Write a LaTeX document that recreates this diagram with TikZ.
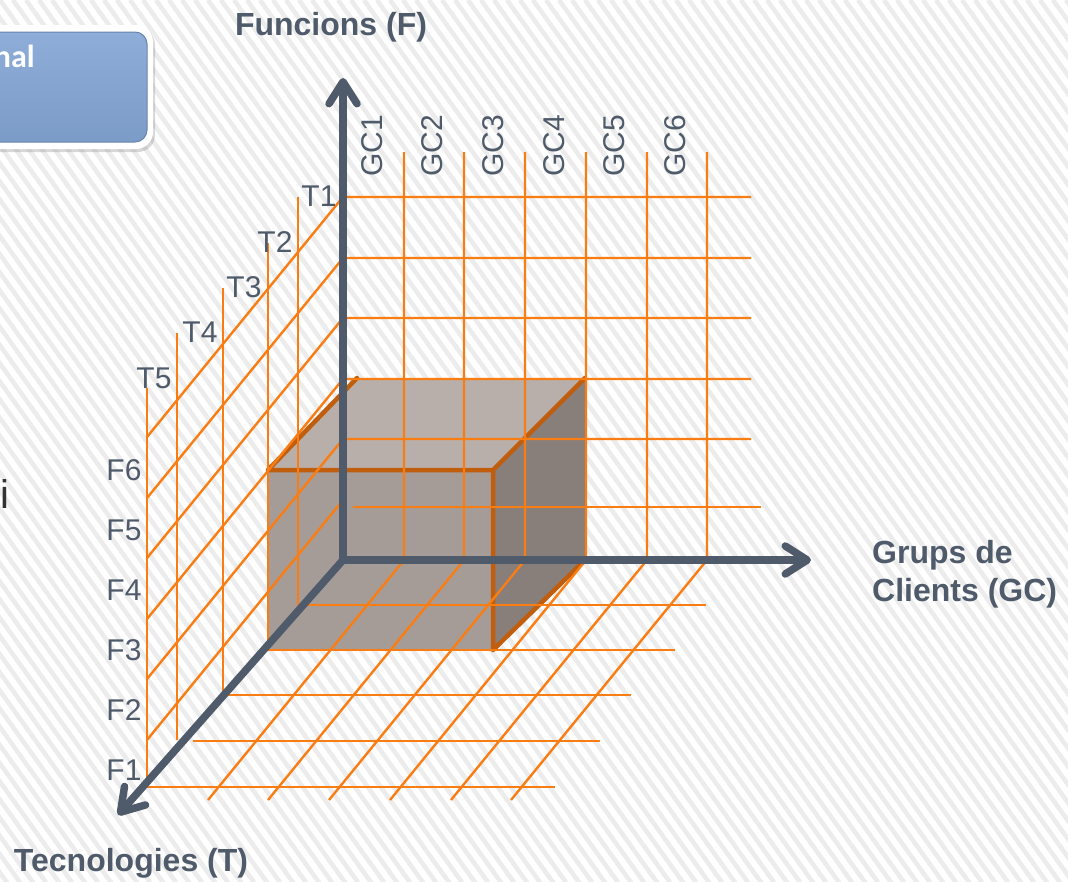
\documentclass[tikz,border=0pt]{standalone}
\usepackage{fontspec}
\setmainfont{Liberation Sans}
\newfontfamily\boxfont{Carlito}
\usetikzlibrary{arrows.meta,shadows}

\definecolor{axisgray}{RGB}{79,91,107}
\definecolor{gridorange}{RGB}{250,125,20}
\definecolor{edgebrown}{RGB}{192,94,14}
\definecolor{cubefront}{RGB}{165,156,152}
\definecolor{cubetop}{RGB}{184,175,171}
\definecolor{cuberight}{RGB}{136,126,122}
\definecolor{boxblue}{RGB}{124,156,200}
\definecolor{boxbluetop}{RGB}{142,173,216}
\definecolor{stripegray}{RGB}{236,236,236}

\tikzset{axtip/.tip={Straight Barb[length=22pt,width=28pt,round]}}

\begin{document}
\begin{tikzpicture}[x=1pt,y=-1pt,
    stripe/.style={draw=stripegray, line width=4.5pt},
    gridline/.style={draw=gridorange, line width=2.4pt, line join=round},
    cubeedge/.style={draw=edgebrown, line width=4.5pt, line cap=round},
    axis/.style={draw=axisgray, line width=7.5pt, line join=miter},
    ticklbl/.style={text=axisgray, font=\fontsize{30}{30}\selectfont, inner sep=0pt},
    axlabel/.style={text=axisgray, font=\fontsize{32}{38}\selectfont\bfseries, inner sep=0pt}]
  \useasboundingbox (0,0) rectangle (1068,881);
  \clip (0,0) rectangle (1068,881);
  \fill[white] (0,0) rectangle (1068,881);
  \foreach \s in {-663,-650,...,1068}
    \draw[stripe] (\s,0) -- ++(640,895);

  \fill[white, rounded corners=17pt, drop shadow={shadow xshift=2pt, shadow yshift=-3pt, opacity=0.3}]
    (-30,25) rectangle (153,149);
  \draw[boxblue!85!black, line width=1pt, rounded corners=12pt, top color=boxbluetop, bottom color=boxblue]
    (-30,32) rectangle (147,142);
  \node[font=\boxfont\bfseries\fontsize{32}{32}\selectfont, text=white, anchor=base east, inner sep=0pt] (boxtxt) at (35,67) {nal};
  \node[font=\fontsize{40}{40}\selectfont, text=black!80, anchor=base west, inner sep=0pt] (cuttxt) at (0,508) {i};

  \fill[cubefront] (268,470) rectangle (493,650);
  \fill[cubetop] (268,470) -- (357,378) -- (585,378) -- (493,470) -- cycle;
  \fill[cuberight] (493,470) -- (585,378) -- (585,560) -- (493,650) -- cycle;
  \draw[cubeedge] (268,470) -- (357,378) (268,470) -- (493,470) -- (493,650)
    (493,470) -- (585,378) (493,650) -- (585,560);

  \foreach \y in {439,379,318,258,197}
    \draw[gridline] (147,{\y+240}) -- (343,\y) -- (751,\y);
  \draw[gridline] (147,740) -- (343,500);
  \draw[gridline] (353,507) -- (761,507);
  \foreach \x in {404,464,525,586,647,707}
    \draw[gridline] ({\x-196},800) -- (\x,560) -- (\x,152);
  \foreach \x/\ya/\yb/\xe in {298/197/605/706, 268/243/650/675, 223/288/695/631, 147/388/787/555}
    \draw[gridline] (\x,\ya) -- (\x,\yb) -- (\xe,\yb);
  \draw[gridline] (177,333) -- (177,740);
  \draw[gridline] (193,741) -- (600,741);

  \coordinate (O) at (343,560);
  \coordinate (Ftip) at (343,78);
  \coordinate (GCtip) at (811,560);
  \coordinate (Ttip) at (118,815);
  \draw[axis, axtip-axtip] (Ftip) -- (O) -- (GCtip);
  \draw[axis, -axtip] (O) -- (Ttip);

  \foreach \i in {1,...,6}
    \node[ticklbl, rotate=90] (gc\i) at ({311+60.7*\i},146) {GC\i};
  \foreach \i/\x/\y in {1/319/196, 2/275/242, 3/244/287, 4/200/332, 5/154/378}
    \node[ticklbl] (t\i) at (\x,\y) {T\i};
  \foreach \i in {1,...,6}
    \node[ticklbl] (f\i) at (124,{830-60*\i}) {F\i};

  \node[axlabel, anchor=base] (lblF) at (331,35) {Funcions (F)};
  \node[axlabel, anchor=north west, align=left] (lblGC) at (872,540) {Grups de\\Clients (GC)};
  \node[axlabel, anchor=base] (lblT) at (131,871) {Tecnologies (T)};
\end{tikzpicture}
\end{document}
